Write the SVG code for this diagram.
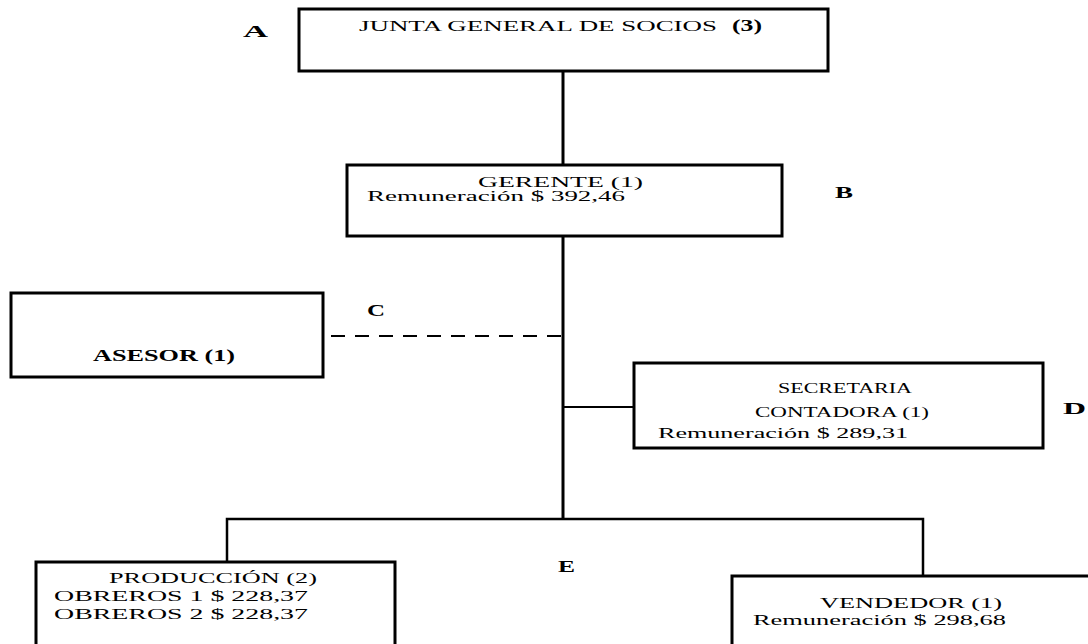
<svg xmlns="http://www.w3.org/2000/svg" width="1088" height="644" viewBox="0 0 1088 644">
<style>
.box{fill:#fff;stroke:#000;stroke-width:3}
.t{font-family:"Liberation Serif",serif;font-size:15px;fill:#000}
.b{font-family:"Liberation Serif",serif;font-weight:bold;font-size:17px;fill:#000}
.ln{stroke:#000;fill:none}
</style>
<rect width="1088" height="644" fill="#fff"/>
<g id="connectors">
<line class="ln" x1="563" y1="70" x2="563" y2="165" stroke-width="3"/>
<line class="ln" x1="563" y1="236" x2="563" y2="520" stroke-width="3"/>
<line class="ln" x1="331" y1="336" x2="563" y2="336" stroke-width="2" stroke-dasharray="14,10"/>
<line class="ln" x1="563" y1="407" x2="634" y2="407" stroke-width="2"/>
<polyline class="ln" points="227,562 227,519 923,519 923,576" stroke-width="2.5"/>
</g>
<g id="nodeA">
<rect class="box" x="299" y="9" width="529" height="62"/>
<text class="t" x="359" y="31" textLength="358" lengthAdjust="spacingAndGlyphs">JUNTA GENERAL DE SOCIOS</text>
<text class="b" x="732" y="31" font-size="15" textLength="30" lengthAdjust="spacingAndGlyphs">(3)</text>
</g>
<g id="nodeB">
<rect class="box" x="347" y="165" width="435" height="71"/>
<text class="t" x="478" y="187" textLength="165" lengthAdjust="spacingAndGlyphs">GERENTE (1)</text>
<text class="t" x="367" y="201" textLength="258" lengthAdjust="spacingAndGlyphs">Remuneración $ 392,46</text>
</g>
<g id="nodeC">
<rect class="box" x="11" y="293" width="312" height="84"/>
<text class="b" x="93" y="361" textLength="142" lengthAdjust="spacingAndGlyphs">ASESOR (1)</text>
</g>
<g id="nodeD">
<rect class="box" x="634" y="363" width="409" height="85"/>
<text class="t" x="778" y="393" textLength="134" lengthAdjust="spacingAndGlyphs">SECRETARIA</text>
<text class="t" x="755" y="417" textLength="174" lengthAdjust="spacingAndGlyphs">CONTADORA (1)</text>
<text class="t" x="658" y="438" textLength="250" lengthAdjust="spacingAndGlyphs">Remuneración $ 289,31</text>
</g>
<g id="nodeE1">
<rect class="box" x="36" y="562" width="359" height="100"/>
<text class="t" x="109" y="583" textLength="208" lengthAdjust="spacingAndGlyphs">PRODUCCIÓN (2)</text>
<text class="t" x="54" y="601" textLength="254" lengthAdjust="spacingAndGlyphs">OBREROS 1  $  228,37</text>
<text class="t" x="54" y="619" textLength="254" lengthAdjust="spacingAndGlyphs">OBREROS 2  $  228,37</text>
</g>
<g id="nodeE2">
<rect class="box" x="732" y="576" width="380" height="100"/>
<text class="t" x="820" y="608" textLength="182" lengthAdjust="spacingAndGlyphs">VENDEDOR (1)</text>
<text class="t" x="753" y="625" textLength="253" lengthAdjust="spacingAndGlyphs">Remuneración $ 298,68</text>
</g>
<g id="labels">
<text class="b" x="243" y="37" textLength="25" lengthAdjust="spacingAndGlyphs">A</text>
<text class="b" x="835" y="198" textLength="18" lengthAdjust="spacingAndGlyphs">B</text>
<text class="b" x="367" y="316" textLength="18" lengthAdjust="spacingAndGlyphs">C</text>
<text class="b" x="1063" y="414" textLength="23" lengthAdjust="spacingAndGlyphs">D</text>
<text class="b" x="558" y="572" textLength="17" lengthAdjust="spacingAndGlyphs">E</text>
</g>
</svg>
